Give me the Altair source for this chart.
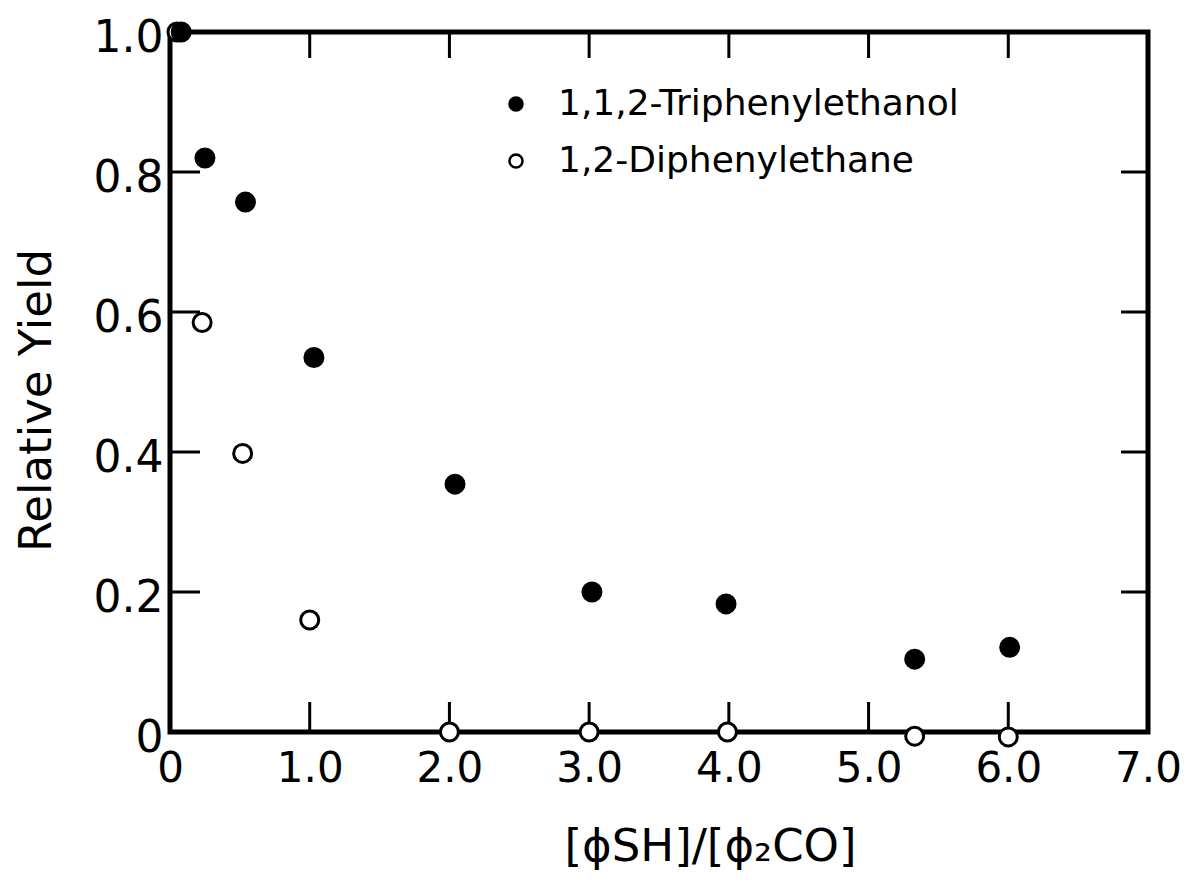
import altair as alt
import pandas as pd

# Data
tri_x = [0.08, 0.25, 0.54, 1.03, 2.04, 3.02, 3.98, 5.33, 6.01]
tri_y = [1.0, 0.82, 0.757, 0.535, 0.354, 0.20, 0.183, 0.104, 0.121]
di_x = [0.05, 0.23, 0.52, 1.0, 2.0, 3.0, 3.99, 5.33, 6.0]
di_y = [1.0, 0.585, 0.398, 0.16, 0.0, 0.0, 0.0, -0.006, -0.007]

series_names = ["1,1,2-Triphenylethanol", "1,2-Diphenylethane"]
x_ticks = [0, 1, 2, 3, 4, 5, 6, 7]
y_ticks = [0, 0.2, 0.4, 0.6, 0.8, 1.0]
x_inner_ticks = [1, 2, 3, 4, 5, 6]
y_inner_ticks = [0.2, 0.4, 0.6, 0.8]

W, H = 978, 700
FONT = "DejaVu Sans"

df = pd.concat([
    pd.DataFrame({"x": di_x, "y": di_y, "series": series_names[1], "order": 0}),
    pd.DataFrame({"x": tri_x, "y": tri_y, "series": series_names[0], "order": 1}),
], ignore_index=True)

xs = alt.Scale(domain=[0, 7], nice=False, zero=False)
ys = alt.Scale(domain=[0, 1], nice=False, zero=False)

label_expr = "datum.value == 0 ? '0' : format(datum.value, '.1f')"

x_axis = alt.Axis(
    values=x_ticks, labelExpr=label_expr, title="[ϕSH]/[ϕ₂CO]",
    ticks=False, domain=False, grid=False, labelFlush=False, labelOverlap=False,
    labelFont=FONT, labelFontSize=42, labelColor="black", labelPadding=16,
    titleFont=FONT, titleFontSize=45, titleFontWeight="normal", titleColor="black",
    titleX=540, titleY=114, titleBaseline="middle", titleAnchor="middle")
y_axis = alt.Axis(
    values=y_ticks, labelExpr=label_expr, title="Relative Yield",
    ticks=False, domain=False, grid=False, labelFlush=False, labelOverlap=False,
    labelFont=FONT, labelFontSize=44, labelColor="black", labelPadding=7,
    labelOffset=6,
    titleFont=FONT, titleFontSize=45, titleFontWeight="normal", titleColor="black",
    titleX=-134, titleY=368, titleBaseline="middle", titleAnchor="middle")

X = alt.X("x:Q", scale=xs, axis=x_axis)
Y = alt.Y("y:Q", scale=ys, axis=y_axis)

points = alt.Chart(df).mark_point(
    shape="circle", size=324, strokeWidth=3, stroke="black", opacity=1, fillOpacity=1
).encode(
    x=X,
    y=Y,
    fill=alt.Fill("series:N", scale=alt.Scale(domain=series_names, range=["black", "white"]),
                  legend=alt.Legend(title=None, orient="none", legendX=328, legendY=54,
                                    symbolType="circle", symbolSize=170, symbolStrokeColor="black",
                                    symbolStrokeWidth=2.5, labelFont=FONT, labelFontSize=36,
                                    labelColor="black", labelOffset=24, rowPadding=21,
                                    labelLimit=0, padding=0)),
    order=alt.Order("order:Q"),
)

xt = pd.DataFrame({"x": x_inner_ticks})
yt = pd.DataFrame({"y": y_inner_ticks})

bottom_ticks = alt.Chart(xt).mark_rule(color="black", strokeWidth=3).encode(
    x=X, y=alt.value(H), y2=alt.value(H - 30))
top_ticks = alt.Chart(xt).mark_rule(color="black", strokeWidth=3).encode(
    x=X, y=alt.value(0), y2=alt.value(26))
left_ticks = alt.Chart(yt).mark_rule(color="black", strokeWidth=3).encode(
    y=Y, x=alt.value(0), x2=alt.value(30))
right_ticks = alt.Chart(yt).mark_rule(color="black", strokeWidth=3).encode(
    y=Y, x=alt.value(W), x2=alt.value(W - 27))

chart = alt.layer(bottom_ticks, top_ticks, left_ticks, right_ticks, points).properties(
    width=W, height=H,
    padding={"left": 162, "top": 24, "right": 37, "bottom": 140},
    autosize=alt.AutoSizeParams(type="none"),
    background="white",
).configure_view(
    stroke="black", strokeWidth=5, fill="white"
)

chart.save("out.html", embed_options={"renderer": "svg", "actions": False})
